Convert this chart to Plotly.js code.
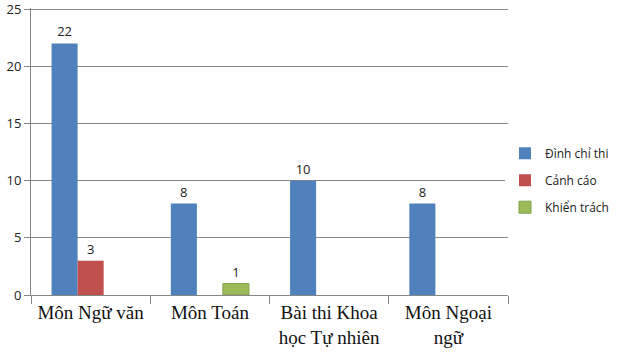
<!DOCTYPE html>
<html>
<head>
<meta charset="utf-8">
<script src="https://cdn.plot.ly/plotly-3.0.1.min.js"></script>
<style>html,body{margin:0;padding:0;background:#fff;}#chart{width:620px;height:363px;}</style>
</head>
<body>
<div id="chart"></div>
<script>
var categories = ["Môn Ngữ văn", "Môn Toán", "Bài thi Khoa<br>học Tự nhiên", "Môn Ngoại<br>ngữ"];
var seriesNames = ["Đình chỉ thi", "Cảnh cáo", "Khiển trách"];
var dinhChiThi = [22, 8, 10, 8];
var canhCao = [3, null, null, null];
var khienTrach = [null, 1, null, null];
var colors = ["#4F81BD", "#C0504D", "#9BBB59"];
var yTickStep = 5;

var allSeries = [dinhChiThi, canhCao, khienTrach];
var traces = allSeries.map(function(vals, i){
  return {
    type: "bar",
    name: seriesNames[i],
    legendgroup: "g" + i,
    x: categories,
    y: vals,
    marker: {color: colors[i], line: {width: i === 2 ? 1 : 0, color: "#7FA04A"}},
    text: vals.map(function(v){ return v === null ? "" : String(v); }),
    textposition: "outside",
    cliponaxis: false,
    textfont: {family: "Open Sans, sans-serif", size: 13, color: "#222"},
    hoverinfo: "none"
  };
});

var layout = {
  width: 620, height: 363,
  margin: {l: 31, r: 6, t: 8, b: 68},
  paper_bgcolor: "#fff", plot_bgcolor: "#fff",
  barmode: "group",
  bargap: 0.345, bargroupgap: 0,
  showlegend: true,
  legend: {x: 1.0, xanchor: "right", y: 0.40, yanchor: "middle",
    font: {family: "Open Sans, sans-serif", size: 12, color: "#222"},
    traceorder: "grouped", tracegroupgap: 8, itemwidth: 30},
  xaxis: {
    type: "category",
    domain: [0, 0.8182],
    showline: true, linecolor: "#868686", linewidth: 1,
    ticks: "outside", tickson: "boundaries", ticklen: 8, tickcolor: "#868686",
    showgrid: false, tickangle: 0,
    tickfont: {family: "Liberation Serif, Times New Roman, serif", size: 19, color: "#111"}
  },
  yaxis: {
    range: [0, 25.1], tickmode: "linear", tick0: 0, dtick: yTickStep,
    ticklabeloverflow: "allow",
    showgrid: true, gridcolor: "#868686", gridwidth: 1,
    showline: true, linecolor: "#868686", linewidth: 1,
    ticks: "outside", ticklen: 6, tickcolor: "#868686",
    zeroline: false, automargin: false,
    tickfont: {family: "Open Sans, sans-serif", size: 13, color: "#222"}
  }
};

Plotly.newPlot("chart", traces, layout, {displayModeBar: false, staticPlot: true});
</script>
</body>
</html>
